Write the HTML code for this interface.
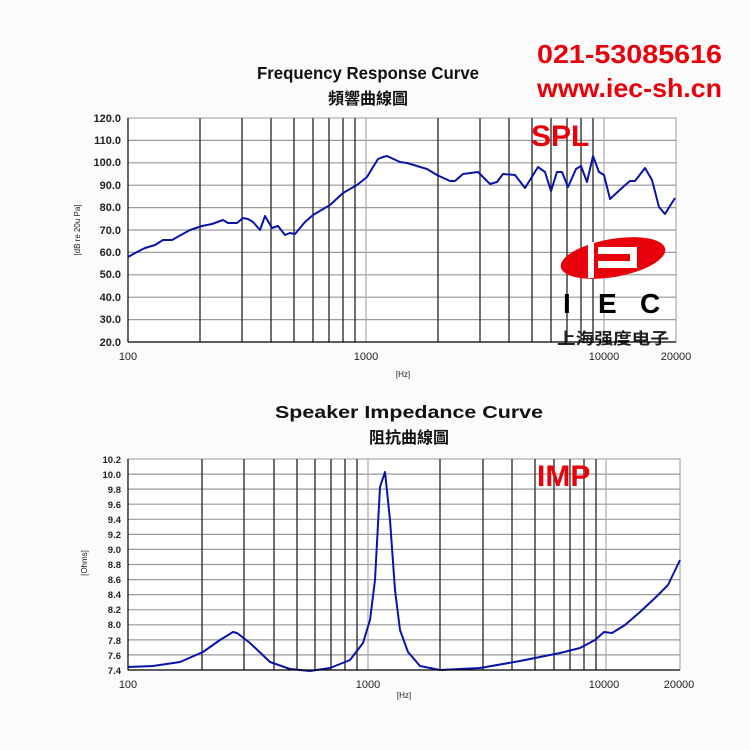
<!DOCTYPE html>
<html><head><meta charset="utf-8"><style>
html,body{margin:0;padding:0;background:#fbfbfb;}
svg{display:block;}
text{font-family:"Liberation Sans","Noto Sans CJK SC",sans-serif;}
</style></head><body>
<svg width="750" height="750" viewBox="0 0 750 750" xmlns="http://www.w3.org/2000/svg">
<rect width="750" height="750" fill="#fbfbfb"/>
<text x="537" y="63" font-size="26" font-weight="bold" fill="#e8000b" textLength="185" lengthAdjust="spacingAndGlyphs">021-53085616</text>
<text x="537" y="97" font-size="26" font-weight="bold" fill="#e8000b" textLength="185" lengthAdjust="spacingAndGlyphs">www.iec-sh.cn</text>

<!-- TOP CHART -->
<text x="368" y="79" font-size="17.5" font-weight="bold" text-anchor="middle" fill="#111" textLength="222" lengthAdjust="spacingAndGlyphs">Frequency Response Curve</text>
<text x="368" y="104" font-size="16" font-weight="bold" text-anchor="middle" fill="#111">頻響曲線圖</text>
<rect x="128" y="118" width="548" height="224" fill="#fff" stroke="#999"/>
<g stroke="#999" stroke-width="1.2">
<line x1="128" x2="676" y1="140.4" y2="140.4"/><line x1="128" x2="676" y1="162.8" y2="162.8"/>
<line x1="128" x2="676" y1="185.2" y2="185.2"/><line x1="128" x2="676" y1="207.6" y2="207.6"/>
<line x1="128" x2="676" y1="230" y2="230"/><line x1="128" x2="676" y1="252.4" y2="252.4"/>
<line x1="128" x2="676" y1="274.8" y2="274.8"/><line x1="128" x2="676" y1="297.2" y2="297.2"/>
<line x1="128" x2="676" y1="319.6" y2="319.6"/>
</g>
<g stroke="#333" stroke-width="1.4">
<line x1="200" x2="200" y1="118" y2="342"/><line x1="242" x2="242" y1="118" y2="342"/>
<line x1="271" x2="271" y1="118" y2="342"/><line x1="294" x2="294" y1="118" y2="342"/>
<line x1="313" x2="313" y1="118" y2="342"/><line x1="329" x2="329" y1="118" y2="342"/>
<line x1="343" x2="343" y1="118" y2="342"/><line x1="355" x2="355" y1="118" y2="342"/>
<line x1="438" x2="438" y1="118" y2="342"/><line x1="480" x2="480" y1="118" y2="342"/>
<line x1="509" x2="509" y1="118" y2="342"/><line x1="532" x2="532" y1="118" y2="342"/>
<line x1="551" x2="551" y1="118" y2="342"/><line x1="567" x2="567" y1="118" y2="342"/>
<line x1="581" x2="581" y1="118" y2="342"/><line x1="593" x2="593" y1="118" y2="342"/>
</g>
<g stroke="#aaa" stroke-width="1.2"><line x1="366" x2="366" y1="118" y2="342"/><line x1="604" x2="604" y1="118" y2="342"/></g>
<!-- logo -->
<g>
<ellipse cx="613" cy="258" rx="53" ry="19" fill="#e8000b" transform="rotate(-10 613 258)"/>
<rect x="598" y="247" width="36" height="7" fill="#fff"/>
<rect x="598" y="261" width="36" height="7" fill="#fff"/>
<rect x="588" y="242" width="6" height="36" fill="#fff"/>
<rect x="630" y="247" width="7" height="21" fill="#fff"/>
<text x="563" y="313" font-size="28" font-weight="bold" fill="#000" font-family="Liberation Sans">I</text>
<text x="598" y="313" font-size="28" font-weight="bold" fill="#000" font-family="Liberation Sans">E</text>
<text x="640" y="313" font-size="28" font-weight="bold" fill="#000" font-family="Liberation Sans">C</text>
<text x="557" y="344" font-size="16" font-weight="bold" fill="#222" textLength="112" lengthAdjust="spacingAndGlyphs" font-family="'Noto Sans CJK SC',sans-serif">上海强度电子</text>
</g>
<text x="531" y="146" font-size="30" font-weight="bold" fill="#e8000b">SPL</text>
<polyline fill="none" stroke="#0a14a8" stroke-width="2" stroke-linejoin="round" points="128,257 137,252 145,248 155,245 163,240 172,240 190,230 202,226 212,224 223,220 228,223 237,223 243,218 248,219 253,222 260,230 265,216 272,228 278,226 285,235 290,233 295,234 305,222 313,215 330,205 343,193 357,185 367,177 373,167 378,159 383,157 387,156 400,162 407,163 427,169 437,175 450,181 455,181 463,174 478,172 490,184 497,182 503,174 515,175 525,188 538,167 545,172 551,191 557,172 562,172 568,187 576,169 581,166 587,182 593,156 599,172 604,175 610,199 623,187 630,181 635,181 645,168 652,180 659,207 665,214 675,198"/>
<g stroke="#000" stroke-width="1.2">
<line x1="128" x2="128" y1="118" y2="342"/><line x1="128" x2="676" y1="342" y2="342"/>
</g>
<g font-size="11" font-weight="bold" text-anchor="end" fill="#222">
<text x="121" y="122">120.0</text><text x="121" y="144">110.0</text><text x="121" y="166">100.0</text>
<text x="121" y="189">90.0</text><text x="121" y="211">80.0</text><text x="121" y="234">70.0</text>
<text x="121" y="256">60.0</text><text x="121" y="278">50.0</text><text x="121" y="301">40.0</text>
<text x="121" y="323">30.0</text><text x="121" y="346">20.0</text>
</g>
<g font-size="11" text-anchor="middle" fill="#222">
<text x="128" y="360">100</text><text x="366" y="360">1000</text><text x="604" y="360">10000</text><text x="676" y="360">20000</text>
<text x="403" y="377" font-size="8">[Hz]</text>
</g>
<text x="0" y="0" font-size="8" text-anchor="middle" fill="#222" transform="translate(80,230) rotate(-90)">[dB re 20u Pa]</text>

<!-- BOTTOM CHART -->
<text x="409" y="418" font-size="17.5" font-weight="bold" text-anchor="middle" fill="#111" textLength="268" lengthAdjust="spacingAndGlyphs">Speaker Impedance Curve</text>
<text x="409" y="443" font-size="16" font-weight="bold" text-anchor="middle" fill="#111">阻抗曲線圖</text>
<rect x="128" y="459" width="552" height="211" fill="#fff" stroke="#999"/>
<g stroke="#999" stroke-width="1.2">
<line x1="128" x2="680" y1="474.1" y2="474.1"/><line x1="128" x2="680" y1="489.1" y2="489.1"/>
<line x1="128" x2="680" y1="504.2" y2="504.2"/><line x1="128" x2="680" y1="519.3" y2="519.3"/>
<line x1="128" x2="680" y1="534.4" y2="534.4"/><line x1="128" x2="680" y1="549.4" y2="549.4"/>
<line x1="128" x2="680" y1="564.5" y2="564.5"/><line x1="128" x2="680" y1="579.6" y2="579.6"/>
<line x1="128" x2="680" y1="594.6" y2="594.6"/><line x1="128" x2="680" y1="609.7" y2="609.7"/>
<line x1="128" x2="680" y1="624.8" y2="624.8"/><line x1="128" x2="680" y1="639.9" y2="639.9"/>
<line x1="128" x2="680" y1="654.9" y2="654.9"/>
</g>
<g stroke="#333" stroke-width="1.4">
<line x1="202" x2="202" y1="459" y2="670"/><line x1="244" x2="244" y1="459" y2="670"/>
<line x1="274" x2="274" y1="459" y2="670"/><line x1="297" x2="297" y1="459" y2="670"/>
<line x1="315" x2="315" y1="459" y2="670"/><line x1="331" x2="331" y1="459" y2="670"/>
<line x1="345" x2="345" y1="459" y2="670"/><line x1="357" x2="357" y1="459" y2="670"/>
<line x1="440" x2="440" y1="459" y2="670"/><line x1="483" x2="483" y1="459" y2="670"/>
<line x1="512" x2="512" y1="459" y2="670"/><line x1="535" x2="535" y1="459" y2="670"/>
<line x1="554" x2="554" y1="459" y2="670"/><line x1="570" x2="570" y1="459" y2="670"/>
<line x1="584" x2="584" y1="459" y2="670"/><line x1="596" x2="596" y1="459" y2="670"/>
</g>
<g stroke="#aaa" stroke-width="1.2"><line x1="368" x2="368" y1="459" y2="670"/><line x1="606" x2="606" y1="459" y2="670"/></g>
<text x="537" y="486" font-size="30" font-weight="bold" fill="#e8000b">IMP</text>
<polyline fill="none" stroke="#0a14a8" stroke-width="2" stroke-linejoin="round" points="128,667 153,666 180,662 203,652 220,640 233,632 237,633 250,643 270,662 290,669 310,671 330,668 350,660 363,643 370,620 375,580 380,487 385,472 390,520 395,590 400,630 408,652 420,666 440,670 480,668 520,661 545,656 560,653 580,648 595,640 604,632 612,633 625,625 640,612 655,598 668,585 680,560"/>
<g stroke="#000" stroke-width="1.2">
<line x1="128" x2="128" y1="459" y2="670"/><line x1="128" x2="680" y1="670" y2="670"/>
</g>
<g font-size="9.5" font-weight="bold" text-anchor="end" fill="#222">
<text x="121" y="463">10.2</text><text x="121" y="478">10.0</text><text x="121" y="493">9.8</text>
<text x="121" y="508">9.6</text><text x="121" y="523">9.4</text><text x="121" y="538">9.2</text>
<text x="121" y="553">9.0</text><text x="121" y="568">8.8</text><text x="121" y="583">8.6</text>
<text x="121" y="598">8.4</text><text x="121" y="613">8.2</text><text x="121" y="628">8.0</text>
<text x="121" y="644">7.8</text><text x="121" y="659">7.6</text><text x="121" y="674">7.4</text>
</g>
<g font-size="11" text-anchor="middle" fill="#222">
<text x="128" y="688">100</text><text x="368" y="688">1000</text><text x="604" y="688">10000</text><text x="679" y="688">20000</text>
<text x="404" y="698" font-size="8">[Hz]</text>
</g>
<text x="0" y="0" font-size="8" text-anchor="middle" fill="#222" transform="translate(87,563) rotate(-90)">[Ohms]</text>
</svg>
</body></html>
